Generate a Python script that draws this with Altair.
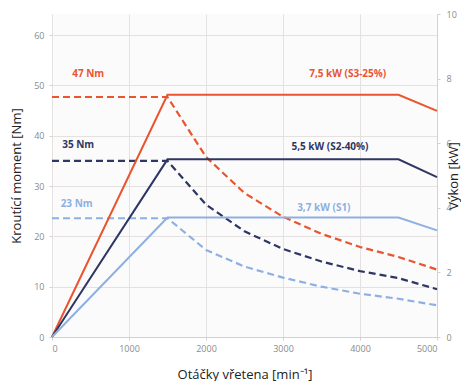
import altair as alt
import pandas as pd

# ---- data ----
series = ["S3-25%", "S2-40%", "S1"]
colors = ["#e9552f", "#2e3763", "#8db0e2"]

rpm_power = [0, 1500, 4500, 5000]
power_s3 = [0, 7.5, 7.5, 7.0]
power_s2 = [0, 5.5, 5.5, 4.95]
power_s1 = [0, 3.7, 3.7, 3.3]

rpm_torque = [0, 1500, 2000, 2500, 3000, 3500, 4000, 4500, 5000]
torque_s3 = [47.7, 47.7, 35.8, 28.6, 23.9, 20.5, 17.9, 15.9, 13.4]
torque_s2 = [35.0, 35.0, 26.3, 21.0, 17.5, 15.0, 13.1, 11.7, 9.5]
torque_s1 = [23.6, 23.6, 17.3, 14.0, 11.8, 10.0, 8.6, 7.6, 6.3]

label_text = ["47 Nm", "7,5 kW (S3-25%)", "35 Nm", "5,5 kW (S2-40%)", "23 Nm", "3,7 kW (S1)"]
label_series = ["S3-25%", "S3-25%", "S2-40%", "S2-40%", "S1", "S1"]
label_rpm = [470, 3840, 340, 3610, 320, 3530]
label_nm = [52.3, 52.3, 38.2, 37.8, 26.4, 25.6]

x_ticks = [0, 1000, 2000, 3000, 4000, 5000]
left_ticks = [0, 10, 20, 30, 40, 50, 60]
right_ticks = [0, 2, 4, 6, 8, 10]

# ---- tables ----
pw = pd.DataFrame(
    [(r, p, s) for s, vals in zip(series, [power_s3, power_s2, power_s1])
     for r, p in zip(rpm_power, vals)],
    columns=["rpm", "kw", "series"])
tq = pd.DataFrame(
    [(r, t, s) for s, vals in zip(series, [torque_s3, torque_s2, torque_s1])
     for r, t in zip(rpm_torque, vals)],
    columns=["rpm", "nm", "series"])
lb = pd.DataFrame({"rpm": label_rpm, "nm": label_nm, "text": label_text, "series": label_series})

color = alt.Color("series:N", scale=alt.Scale(domain=series, range=colors), legend=None)
order = alt.Order("rpm:Q")
grid_c = "#e6e1e1"
axis_c = "#d6d0d0"

xenc = alt.X("rpm:Q", scale=alt.Scale(domain=[0, 5000], nice=False),
             axis=alt.Axis(values=x_ticks, title="Otáčky vřetena [min⁻¹]", format="d",
                           grid=True, gridColor=grid_c, domainColor=axis_c,
                           tickColor=axis_c, tickSize=3, labelPadding=4,
                           titlePadding=15))

left_y = alt.Y("nm:Q", scale=alt.Scale(domain=[0, 64.2], nice=False),
               axis=alt.Axis(values=left_ticks, title="Kroutící moment [Nm]",
                             grid=True, gridColor=grid_c, domain=False,
                             tickColor=axis_c, tickSize=3, labelPadding=5,
                             titlePadding=10))

torque = alt.Chart(tq).mark_line(strokeWidth=2.2, strokeDash=[7, 4]).encode(
    x=xenc, y=left_y, color=color, detail="series:N", order=order)

labels = alt.Chart(lb).mark_text(fontWeight="bold", fontSize=10, font="Open Sans").encode(
    x="rpm:Q", y="nm:Q", text="text:N", color=color)

power = alt.Chart(pw).mark_line(strokeWidth=2).encode(
    x=alt.X("rpm:Q"),
    y=alt.Y("kw:Q", scale=alt.Scale(domain=[0, 10], nice=False),
            axis=alt.Axis(values=right_ticks, title="Výkon [kW]", orient="right",
                          grid=False, domainColor=axis_c, tickColor=axis_c,
                          tickSize=3, labelPadding=6, titleAngle=270, titlePadding=4)),
    color=color, detail="series:N", order=order)

left = alt.layer(torque, labels)
chart = alt.layer(left, power).resolve_scale(y="independent").properties(
    width=385, height=323,
    padding={"left": 2, "top": 2, "right": 0, "bottom": 0},
    background="white",
).configure_view(stroke=None, fill="#fcfbfb").configure_axis(
    labelFont="Open Sans", labelFontSize=9, labelColor="#8a8a8a",
    titleFont="Open Sans", titleFontSize=13, titleFontWeight="normal", titleColor="#222222",
)

chart.save("out.html", embed_options={"renderer": "svg", "actions": False})
